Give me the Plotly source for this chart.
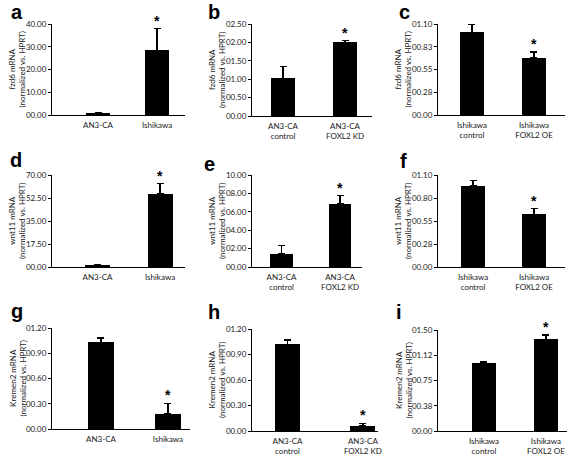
import plotly.graph_objects as go

W, H = 567, 459
OFF = 0  # body margin is reset to 0 by the post script

# ---------------- data ----------------
panel_ids = ["a", "b", "c", "d", "e", "f", "g", "h", "i"]

cats_a = ["AN3-CA", "Ishikawa"]
cats_b = ["AN3-CA<br>control", "AN3-CA<br>FOXL2 KD"]
cats_c = ["Ishikawa<br>control", "Ishikawa<br>FOXL2 OE"]
cats_d = ["AN3-CA", "Ishikawa"]
cats_e = ["AN3-CA<br>control", "AN3-CA<br>FOXL2 KD"]
cats_f = ["Ishikawa<br>control", "Ishikawa<br>FOXL2 OE"]
cats_g = ["AN3-CA", "Ishikawa"]
cats_h = ["AN3-CA<br>control", "AN3-CA<br>FOXL2 KD"]
cats_i = ["Ishikawa<br>control", "Ishikawa<br>FOXL2 OE"]

vals_a = [1.0, 28.5]
err_a = [0.2, 9.5]
vals_b = [1.02, 2.0]
err_b = [0.33, 0.05]
vals_c = [1.0, 0.69]
err_c = [0.09, 0.07]
vals_d = [1.0, 55.5]
err_d = [0.8, 8.0]
vals_e = [1.4, 6.9]
err_e = [0.95, 0.85]
vals_f = [0.97, 0.63]
err_f = [0.065, 0.068]
vals_g = [1.03, 0.18]
err_g = [0.05, 0.125]
vals_h = [1.02, 0.06]
err_h = [0.05, 0.03]
vals_i = [1.01, 1.36]
err_i = [0.025, 0.065]

star_index = [1, 1, 1, 1, 1, 1, 1, 1, 1]

ytitle_fzd6 = "fzd6 mRNA<br>(normalized vs. HPRT)"
ytitle_wnt11 = "wnt11 mRNA<br>(normalized vs. HPRT)"
ytitle_krem = "Kremen2 mRNA<br>(normalized vs. HPRT)"

tickv_a = [0, 10, 20, 30, 40]
tickt_a = ["00.00", "10.00", "20.00", "30.00", "40.00"]
tickv_b = [0, 0.5, 1.0, 1.5, 2.0, 2.5]
tickt_b = ["00.00", "00.50", "01.00", "01.50", "02.00", "02.50"]
tickv_c = [0, 0.275, 0.55, 0.825, 1.1]
tickt_c = ["00.00", "00.28", "00.55", "00.83", "01.10"]
tickv_d = [0, 17.5, 35, 52.5, 70]
tickt_d = ["00.00", "17.50", "35.00", "52.50", "70.00"]
tickv_e = [0, 2, 4, 6, 8, 10]
tickt_e = ["00.00", "02.00", "04.00", "06.00", "08.00", "10.00"]
tickv_f = [0, 0.275, 0.55, 0.825, 1.1]
tickt_f = ["00.00", "00.28", "00.55", "00.80", "01.10"]
tickv_g = [0, 0.3, 0.6, 0.9, 1.2]
tickt_g = ["00.00", "00.30", "00.60", "00.90", "01.20"]
tickv_h = [0, 0.3, 0.6, 0.9, 1.2]
tickt_h = ["00.00", "00.30", "00.60", "00.90", "01.20"]
tickv_i = [0, 0.375, 0.75, 1.125, 1.5]
tickt_i = ["00.00", "00.38", "00.75", "01.12", "01.50"]

# ---------------- layout geometry (page pixels) ----------------
# x0, x1 : axis extent; yt, yb : top tick / zero line; r0, r1 : x range; bw : bar width
geom = {
    "a": dict(x0=52, x1=185, yt=24, yb=115, r0=-0.78, r1=1.474, bw=0.42),
    "b": dict(x0=252, x1=372, yt=24, yb=116, r0=-0.5, r1=1.435, bw=0.40),
    "c": dict(x0=438, x1=565, yt=24, yb=115, r0=-0.548, r1=1.5, bw=0.40),
    "d": dict(x0=52, x1=185, yt=175, yb=267, r0=-0.728, r1=1.40, bw=0.40),
    "e": dict(x0=252, x1=362, yt=175, yb=267, r0=-0.504, r1=1.374, bw=0.38),
    "f": dict(x0=438, x1=565, yt=175, yb=267, r0=-0.574, r1=1.508, bw=0.39),
    "g": dict(x0=52, x1=190, yt=328, yb=429, r0=-0.731, r1=1.329, bw=0.40),
    "h": dict(x0=252, x1=378, yt=329, yb=431, r0=-0.47, r1=1.2, bw=0.33),
    "i": dict(x0=438, x1=567, yt=330, yb=431, r0=-0.742, r1=1.34, bw=0.40),
}
letter_pos = {
    "a": (17, 12), "b": (214, 12), "c": (404, 12),
    "d": (16, 160), "e": (209, 164), "f": (403, 161),
    "g": (17, 311), "h": (214, 312), "i": (399, 312),
}


def fx(px):
    return (px - OFF) / W


def fy(py):
    return 1 - (py - OFF) / H


data = {
    "a": (cats_a, vals_a, err_a, tickv_a, tickt_a, ytitle_fzd6),
    "b": (cats_b, vals_b, err_b, tickv_b, tickt_b, ytitle_fzd6),
    "c": (cats_c, vals_c, err_c, tickv_c, tickt_c, ytitle_fzd6),
    "d": (cats_d, vals_d, err_d, tickv_d, tickt_d, ytitle_wnt11),
    "e": (cats_e, vals_e, err_e, tickv_e, tickt_e, ytitle_wnt11),
    "f": (cats_f, vals_f, err_f, tickv_f, tickt_f, ytitle_wnt11),
    "g": (cats_g, vals_g, err_g, tickv_g, tickt_g, ytitle_krem),
    "h": (cats_h, vals_h, err_h, tickv_h, tickt_h, ytitle_krem),
    "i": (cats_i, vals_i, err_i, tickv_i, tickt_i, ytitle_krem),
}

FONT = "Lato"
TXT = "#1a1a1a"

fig = go.Figure()
annotations = []
layout_axes = {}

for k, pid in enumerate(panel_ids):
    cats, vals, errs, tv, tt, ytitle = data[pid]
    g = geom[pid]
    n = k + 1
    xa = "x" if n == 1 else f"x{n}"
    ya = "y" if n == 1 else f"y{n}"
    xkey = "xaxis" if n == 1 else f"xaxis{n}"
    ykey = "yaxis" if n == 1 else f"yaxis{n}"
    xs = list(range(len(cats)))
    fig.add_trace(go.Bar(
        x=xs, y=vals, width=g["bw"], marker=dict(color="black", line=dict(width=0)),
        error_y=dict(type="data", symmetric=False, array=errs,
                     arrayminus=[0] * len(errs), color="black",
                     thickness=1.3, width=3.5),
        xaxis=xa, yaxis=ya, showlegend=False, hoverinfo="skip",
    ))
    layout_axes[xkey] = dict(
        domain=[fx(g["x0"]), min(fx(g["x1"]), 1)], anchor=ya, range=[g["r0"], g["r1"]],
        tickvals=xs, ticktext=cats, showline=True, linecolor="black", linewidth=1,
        showgrid=False, zeroline=False, ticks="", fixedrange=True, automargin=False,
        ticklabelstandoff=2,
        tickfont=dict(family=FONT, size=8, color=TXT),
    )
    layout_axes[ykey] = dict(
        domain=[fy(g["yb"]), fy(g["yt"])], anchor=xa,
        range=[0, tv[-1] * 1.0001],
        tickvals=tv, ticktext=tt, showline=True, linecolor="black", linewidth=1,
        showgrid=False, zeroline=False, ticks="outside", ticklen=3, tickwidth=1,
        tickcolor="black", fixedrange=True, automargin=False,
        tickfont=dict(family=FONT, size=8, color=TXT),
    )
    # y-axis title (two lines, rotated)
    annotations.append(dict(
        x=fx(g["x0"] - 35), y=fy((g["yt"] + g["yb"]) / 2),
        xref="paper", yref="paper", text=ytitle, textangle=-90,
        showarrow=False, xanchor="center", yanchor="middle",
        font=dict(family=FONT, size=8, color=TXT),
    ))
    # asterisk
    si = star_index[k]
    annotations.append(dict(
        x=xs[si], y=vals[si] + errs[si], xref=xa, yref=ya, text="<b>*</b>",
        showarrow=False, xanchor="center", yanchor="bottom", yshift=-2,
        font=dict(family="Liberation Sans", size=14, color="black"),
    ))
    # panel letter
    lx, ly = letter_pos[pid]
    annotations.append(dict(
        x=fx(lx), y=fy(ly), xref="paper", yref="paper", text=f"<b>{pid}</b>",
        showarrow=False, xanchor="center", yanchor="middle",
        font=dict(family="Liberation Sans", size=20, color="black"),
    ))

fig.update_layout(
    width=W, height=H, margin=dict(l=0, r=0, t=0, b=0, autoexpand=False),
    paper_bgcolor="white", plot_bgcolor="white",
    annotations=annotations, bargap=0, **layout_axes,
)

fig.write_html(
    "out.html",
    config={"displayModeBar": False},
    post_script="document.body.style.margin='0px';document.body.style.overflow='hidden';",
)
